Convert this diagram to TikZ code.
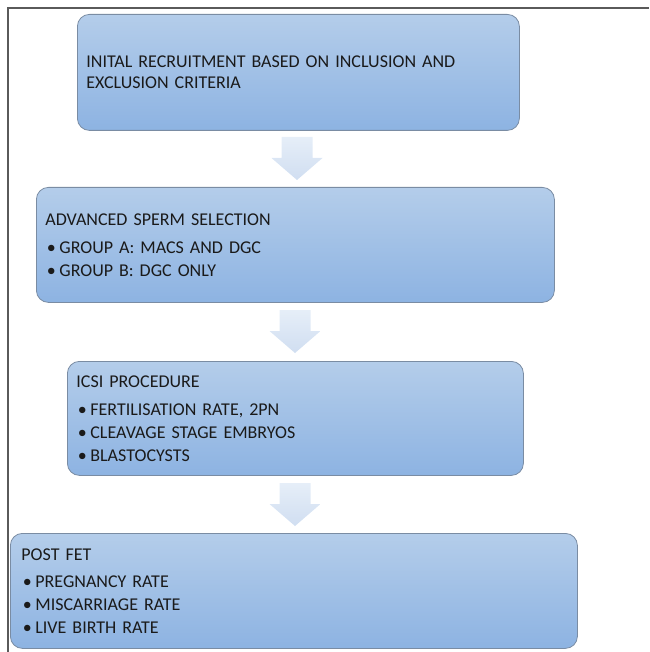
\documentclass[tikz,border=0pt]{standalone}
\usepackage{fontspec}
\setmainfont{Carlito}
\usetikzlibrary{shadings}
\definecolor{boxtop}{HTML}{B4CDEA}
\definecolor{boxbot}{HTML}{8DB3E2}
\definecolor{boxline}{HTML}{7A8CA3}
\definecolor{arrtop}{HTML}{E6EEF8}
\definecolor{arrbot}{HTML}{D0DEF1}
\definecolor{framegray}{HTML}{5A5A5A}
\definecolor{txt}{HTML}{1A1A1A}
\tikzset{
  flowbox/.style={draw=boxline, line width=0.8pt, rounded corners=12pt,
    top color=boxtop, bottom color=boxbot, anchor=north west,
    inner xsep=9pt, inner ysep=0pt, align=left, text=txt,
    font=\fontsize{18}{21}\selectfont},
  blockarrow/.style={top color=arrtop, bottom color=arrbot, draw=none},
  frameline/.style={draw=framegray, line width=1.6pt}
}
\newcommand{\bitem}[1]{\hspace*{1.5pt}\makebox[12.5pt][l]{•}#1}
\begin{document}
\begin{tikzpicture}[x=1pt,y=-1pt]
\useasboundingbox (0,0) rectangle (649,652);
\draw[frameline] (7,8) -- (649,8);
\draw[frameline] (8,8) -- (8,652);

\node[flowbox, text width=424pt, minimum height=116pt] (b1) at (77,14)
  {INITAL RECRUITMENT BASED ON INCLUSION AND\\EXCLUSION CRITERIA};
\node[flowbox, text width=500pt, minimum height=115pt] (b2) at (36,187)
  {ADVANCED SPERM SELECTION\\[7pt]\bitem{GROUP A: MACS AND DGC}\\[2pt]\bitem{GROUP B: DGC ONLY}};
\node[flowbox, text width=438pt, minimum height=114pt] (b3) at (67,361)
  {ICSI PROCEDURE\\[7pt]\bitem{FERTILISATION RATE, 2PN}\\[2pt]\bitem{CLEAVAGE STAGE EMBRYOS}\\[2pt]\bitem{BLASTOCYSTS}};
\node[flowbox, text width=545pt, minimum height=115pt, inner xsep=11pt] (b4) at (10,533)
  {POST FET\\[6pt]\bitem{PREGNANCY RATE}\\[2pt]\bitem{MISCARRIAGE RATE}\\[2pt]\bitem{LIVE BIRTH RATE}};

\coordinate (a1) at (297,137);
\coordinate (a2) at (295,310);
\coordinate (a3) at (295,483);
\foreach \a in {a1,a2,a3}{
  \path[blockarrow] (\a) ++(-15.5,0) -- ++(31,0) -- ++(0,21) -- ++(10,0)
    -- ++(-25.5,22) -- ++(-25.5,-22) -- ++(10,0) -- cycle;
}
\end{tikzpicture}
\end{document}
